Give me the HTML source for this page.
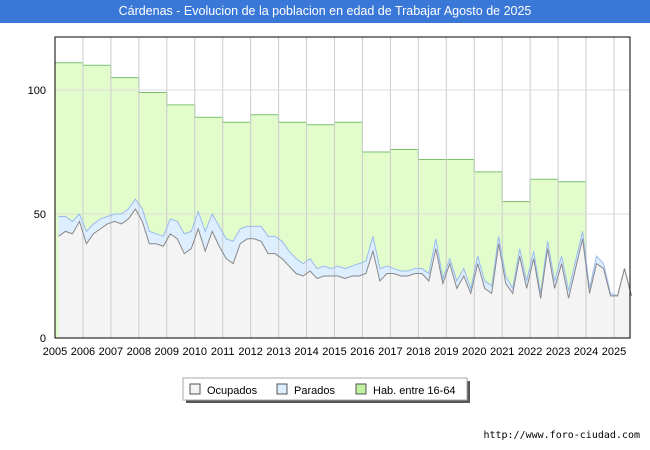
<!DOCTYPE html>
<html><head><meta charset="utf-8"><style>
body{margin:0;background:#fff;font-family:"Liberation Sans",sans-serif}
#t{position:absolute;left:0;top:0;width:650px;height:23px;background:#3a78d8;color:#fff;font-size:12.5px;text-align:center;line-height:23px}
</style></head><body>
<div id="t">Cárdenas - Evolucion de la poblacion en edad de Trabajar Agosto de 2025</div>
<svg id="c" width="650" height="450" style="position:absolute;left:0;top:0"></svg>
<script>
const years=[2005,2006,2007,2008,2009,2010,2011,2012,2013,2014,2015,2016,2017,2018,2019,2020,2021,2022,2023,2024,2025];
const hab=[111,110,105,99,94,89,87,90,87,86,87,75,76,72,72,67,55,64,63];
const ocupados=[41,43,42,47,38,42,44,46,47,46,48,52,47,38,38,37,42,40,34,36,44,35,43,37,32,30,38,40,40,39,34,34,32,29,26,25,27,24,25,25,25,24,25,25,26,35,23,26,26,25,25,26,26,23,36,22,30,20,25,18,30,20,18,38,22,18,33,20,32,16,36,20,30,16,28,40,18,30,28,17,17,28,17];
const parados=[8,6,5,3,5,4,4,3,3,4,4,4,5,5,4,4,6,7,8,7,7,8,7,8,8,9,6,5,5,6,7,7,7,6,6,5,5,4,4,3,4,4,4,5,5,6,5,3,2,2,2,2,2,3,4,2,2,3,3,2,3,3,3,3,3,2,3,3,3,2,3,3,3,3,3,3,2,3,2,1,0,0,0];
const yTicks=[0,50,100];
const NS="http://www.w3.org/2000/svg",svg=document.getElementById('c');
const X0=55,X1=630,Y0=338,Y1=37;
const xs=t=>X0+(t-2005)*27.95, ys=v=>Y0-v*2.48;
function mk(tag,a,p){const e=document.createElementNS(NS,tag);for(const k in a)e.setAttribute(k,a[k]);(p||svg).appendChild(e);return e;}
mk('rect',{x:X0,y:Y1,width:X1-X0,height:Y0-Y1,fill:'#fff',stroke:'#000'});
// hab
let d='M'+xs(2005)+','+Y0;hab.forEach((v,i)=>{d+=' L'+xs(2005+i)+','+ys(v)+' L'+xs(2006+i)+','+ys(v);});
d+=' L'+xs(2005+hab.length)+','+Y0+'Z';
const h=mk('path',{d:d,fill:'#e2fccc',stroke:'#7cc070'});

const tx=i=>xs(2005+i/4+0.125);
let dp='M'+tx(0)+','+Y0,lp='';
ocupados.forEach((o,i)=>{const p=ys(o+parados[i]);dp+=' L'+tx(i)+','+p;lp+=(i?' L':'M')+tx(i)+','+p;});
dp+=' L'+tx(ocupados.length-1)+','+Y0+'Z';
const pa=mk('path',{d:dp,fill:'#ddeeff'});
let doo='M'+tx(0)+','+Y0,lo='';
ocupados.forEach((o,i)=>{doo+=' L'+tx(i)+','+ys(o);lo+=(i?' L':'M')+tx(i)+','+ys(o);});
doo+=' L'+tx(ocupados.length-1)+','+Y0+'Z';
const oa=mk('path',{d:doo,fill:'#f4f4f4'});
years.forEach(y=>{const l=mk('line',{x1:xs(y),x2:xs(y),y1:Y1,y2:Y0,stroke:'#ccc'});

const t=mk('text',{x:xs(y),y:355,'font-size':11,'text-anchor':'middle'});t.textContent=y;
});
yTicks.forEach(v=>{const l=mk('line',{x1:X0,x2:X1,y1:ys(v),y2:ys(v),stroke:'#ddd'});

const t=mk('text',{x:46,y:ys(v)+4,'font-size':11,'text-anchor':'end'});t.textContent=v;
});
const pl=mk('path',{d:lp,fill:'none',stroke:'#99bbee'});
const ol=mk('path',{d:lo,fill:'none',stroke:'#888'});
mk('rect',{x:X0,y:Y1,width:X1-X0,height:Y0-Y1,fill:'none',stroke:'#000'});
// legend
const lg=mk('g',{});
mk('rect',{x:186,y:381,width:284,height:22,fill:'#555'},lg);
mk('rect',{x:183,y:378,width:284,height:22,fill:'#fff',stroke:'#aaa'},lg);
[['Ocupados','#f4f4f4',190],['Parados','#ddeeff',277],['Hab. entre 16-64','#bff0a0',356]].forEach(([n,c,x])=>{
const g=mk('g',{},lg);
mk('rect',{x:x,y:384,width:10,height:10,fill:c,stroke:'#555'},g);
const t=mk('text',{x:x+17,y:394,'font-size':11},g);t.textContent=n;});
const f=mk('text',{x:640,y:438,'font-size':10,'text-anchor':'end','font-family':'DejaVu Sans Mono, monospace'});f.textContent='http://www.foro-ciudad.com';

</script>
</body></html>
